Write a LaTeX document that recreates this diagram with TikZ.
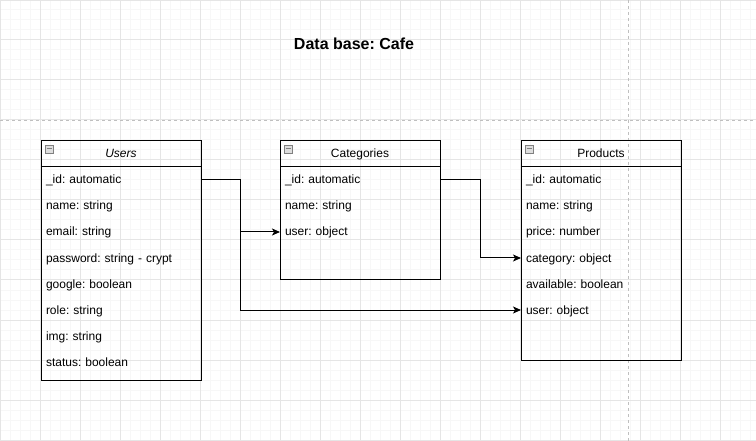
\documentclass[tikz,border=0pt]{standalone}
\usepackage{fontspec}
\setmainfont{Liberation Sans}
\usetikzlibrary{arrows.meta,positioning}

\newcommand\cellfont{\fontsize{12}{14}\selectfont}
\frenchspacing

\begin{document}
\begin{tikzpicture}[
  x=1pt,y=-1pt,
  font=\cellfont,
  head/.style={draw,line width=1pt,anchor=north west,minimum width=160pt,minimum height=26pt,
    inner sep=0pt,outer sep=0pt,text height=10pt,text depth=2pt},
  body/.style={draw,line width=1pt,anchor=north,minimum width=160pt,inner sep=0pt,outer sep=0pt},
  field/.style={anchor=north,minimum height=26pt,text width=150pt,inner xsep=5pt,inner ysep=0pt,
    outer sep=0pt,align=left,text height=10pt,text depth=2pt},
  minusbox/.style={draw=black!50,fill=black!13,line width=0.8pt,minimum size=8pt,inner sep=0pt,
    path picture={\draw[line width=1pt] ([xshift=1.5pt]path picture bounding box.west)
      -- ([xshift=-1.5pt]path picture bounding box.east);}},
  link/.style={line width=1pt,-{Stealth[length=8pt,width=7pt,inset=2pt]}}
]
  \useasboundingbox (0,0) rectangle (756,441);
  % background grid and page breaks
  \draw[black!3,line width=1pt,step=10pt] (0pt,0pt) grid (756pt,-441pt);
  \draw[black!10,line width=1pt,step=40pt] (0pt,0pt) grid (756pt,-441pt);
  \draw[black!25,line width=1pt,dash pattern=on 3pt off 3pt] (0,121) -- (756,121) (628,0) -- (628,441);

  \node[font=\bfseries\fontsize{16}{19}\selectfont] (title) at (354,44) {Data base: Cafe};

  % Users
  \node[head,font=\cellfont\itshape] (users) at (41,141) {Users};
  \node[body,minimum height=213pt,below=0pt of users] (users-box) {};
  \node[minusbox] at ([xshift=8pt,yshift=-8pt]users.north west) {};
  \node[field,below=0pt of users] (users-id) {\_id: automatic};
  \node[field,below=0pt of users-id] (users-name) {name: string};
  \node[field,below=0pt of users-name] (users-email) {email: string};
  \node[field,below=0pt of users-email] (users-pass) {password: string - crypt};
  \node[field,below=0pt of users-pass] (users-google) {google: boolean};
  \node[field,below=0pt of users-google] (users-role) {role: string};
  \node[field,below=0pt of users-role] (users-img) {img: string};
  \node[field,below=0pt of users-img] (users-status) {status: boolean};

  % Categories
  \node[head] (cat) at (280,141) {Categories};
  \node[body,minimum height=113pt,below=0pt of cat] (cat-box) {};
  \node[minusbox] at ([xshift=8pt,yshift=-8pt]cat.north west) {};
  \node[field,below=0pt of cat] (cat-id) {\_id: automatic};
  \node[field,below=0pt of cat-id] (cat-name) {name: string};
  \node[field,below=0pt of cat-name] (cat-user) {user: object};

  % Products
  \node[head] (prod) at (521,141) {Products};
  \node[body,minimum height=193pt,below=0pt of prod] (prod-box) {};
  \node[minusbox] at ([xshift=8pt,yshift=-8pt]prod.north west) {};
  \node[field,below=0pt of prod] (prod-id) {\_id: automatic};
  \node[field,below=0pt of prod-id] (prod-name) {name: string};
  \node[field,below=0pt of prod-name] (prod-price) {price: number};
  \node[field,below=0pt of prod-price] (prod-cat) {category: object};
  \node[field,below=0pt of prod-cat] (prod-avail) {available: boolean};
  \node[field,below=0pt of prod-avail] (prod-user) {user: object};

  % relations
  \draw[link] (users-id.east) -- ++(39,0) |- (cat-user.west);
  \draw[link] (users-id.east) -- ++(39,0) |- (prod-user.west);
  \draw[link] (cat-id.east) -- ++(40,0) |- (prod-cat.west);
\end{tikzpicture}
\end{document}
